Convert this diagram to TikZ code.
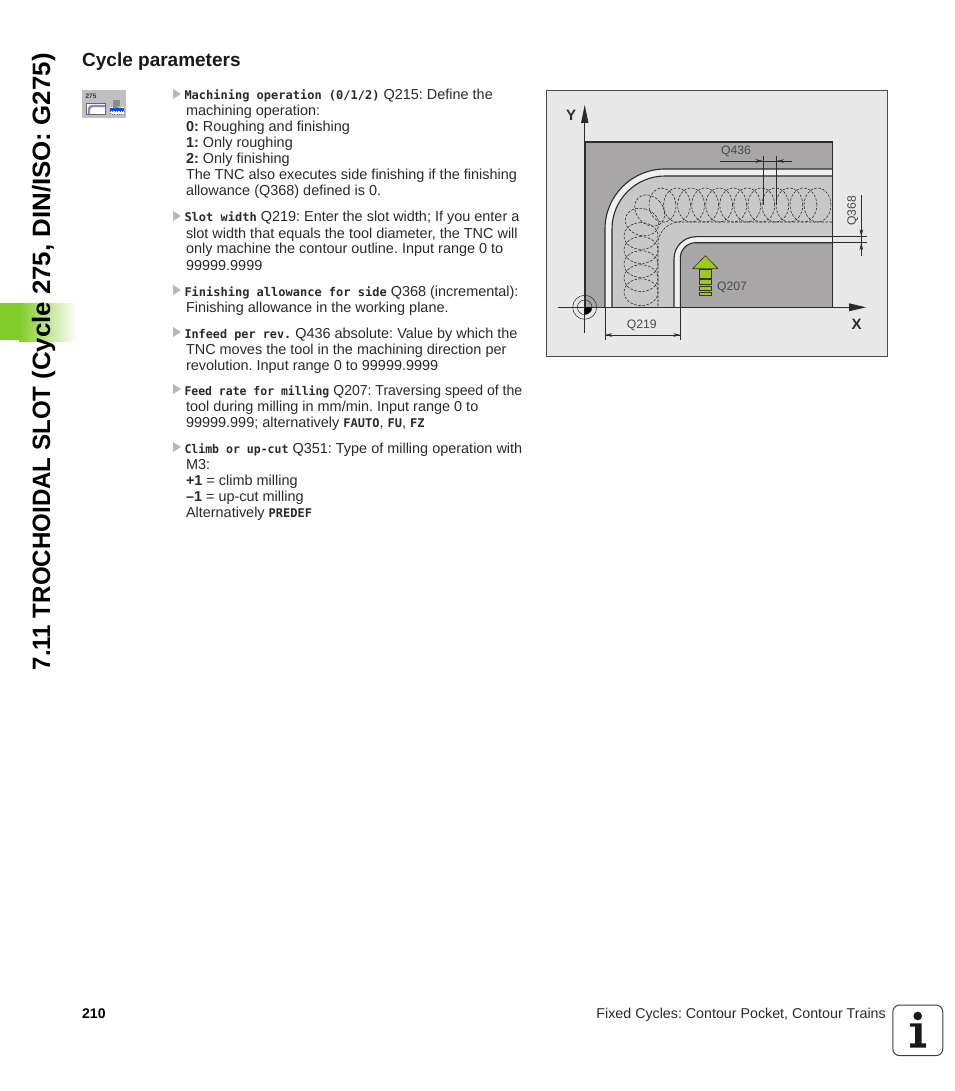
\documentclass[tikz,border=0pt]{standalone}
\usepackage{graphicx}
\usepackage{fontspec}
\setmainfont{Liberation Sans}
\newfontfamily\codefont{DejaVu Sans Mono}
\usetikzlibrary{arrows.meta}
\definecolor{bodyink}{HTML}{2A2A2A}
\definecolor{labelink}{HTML}{4A4A4A}
\definecolor{sheet}{HTML}{E8E8E8}
\definecolor{stockgray}{HTML}{A8A6A6}
\definecolor{slotgray}{HTML}{C8C8C8}
\definecolor{stripwhite}{HTML}{F0F0F0}
\definecolor{lineink}{HTML}{2C2C2C}
\definecolor{leaf}{HTML}{9CCB1E}
\definecolor{tabgreen}{HTML}{80CC28}
\newcommand{\cod}[1]{{\codefont\bfseries\fontsize{12}{16}\selectfont #1}}
\newcommand{\codx}[2]{\scalebox{#1}[1]{\cod{#2}}}
\newcommand{\bld}[1]{{\bfseries #1}}
\tikzset{
  body/.style={anchor=base west,inner sep=0pt,outer sep=0pt,text=bodyink,font=\fontsize{14.45}{16}\selectfont\frenchspacing},
  dimlabel/.style={inner sep=0pt,text=labelink,font=\fontsize{12.2}{14}\selectfont},
  axislabel/.style={inner sep=0pt,text=lineink,font=\bfseries\fontsize{15}{16}\selectfont},
  thin line/.style={draw=lineink,line width=0.55pt},
  slotedge/.style={draw=lineink,line width=1.1pt},
  bullet/.style={fill=black!28,draw=none},
  helixpath/.style={draw=black!85,line width=0.55pt,dash pattern=on 2.6pt off 1.5pt},
  dimtip/.style={-{Stealth[length=7.5pt,width=3.6pt]},draw=lineink,line width=0.55pt}
}
\begin{document}
\begin{tikzpicture}[x=1pt,y=-1pt]
\useasboundingbox (0,0) rectangle (954,1091);
\fill[white] (0,0) rectangle (954,1091);
% side tab
\fill[tabgreen] (0,303) rectangle (19,340);
\shade[left color=tabgreen,right color=white] (19,303) rectangle (77,341);
\node[inner sep=0pt,anchor=base west,rotate=90,text=black,font=\bfseries\fontsize{25.1}{26}\selectfont] (sidetitle) at (50,670.5) {\scalebox{.96}[1]{7.11 TROCHOIDAL SLOT} \scalebox{1.03}[1]{(Cycle 275, DIN/ISO: G275)}};
% heading
\node[anchor=base west,inner sep=0pt,font=\bfseries\fontsize{19}{22}\selectfont,text=black!90] (heading) at (82,67) {Cycle parameters};
% icon
\fill[black!25] (82,90) rectangle (126,118);
\node[inner sep=0pt,font=\bfseries\fontsize{6.5}{7}\selectfont,text=black!80] (icontext) at (91,96.5) {275};
\draw[black!60,fill=white,line width=0.6pt] (86,103) rectangle (105,114);
\draw[blue!35!gray!70,line width=2.4pt] (89,114) -- (89,109) to[out=90,in=180] (93,106) -- (105,106);
\fill[white] (110,107) rectangle (124,114);
\fill[blue!70!cyan] (110,108.5) rectangle (124,111);
\fill[black!45] (113,100) rectangle (120,108);
\fill[yellow!70!green] (118,106) rectangle (121,108.5);
\draw[black!60,dotted] (110,111) rectangle (124,114);
% bullets
\foreach \yb/\bn in {94/a,216/b,290/c,332/d,389/e,447/f}{
  \fill[bullet] (173,\yb-5) -- (181,\yb) -- (173,\yb+5) -- cycle;
}
% paragraph 1
\node[body] (l01) at (184.5,100) {\cod{Machining operation (0/1/2)} Q215: Define the};
\node[body] (l02) at (186,116) {machining operation:};
\node[body] (l03) at (186,132) {\bld{0:} Roughing and finishing};
\node[body] (l04) at (186,148) {\bld{1:} Only roughing};
\node[body] (l05) at (186,164) {\bld{2:} Only finishing};
\node[body] (l06) at (186,180) {The TNC also executes side finishing if the finishing};
\node[body] (l07) at (186,196) {allowance (Q368) defined is 0.};
% paragraph 2
\node[body] (l08) at (184.5,222) {\cod{Slot width} Q219: Enter the slot width; If you enter a};
\node[body] (l09) at (186,238) {slot width that equals the tool diameter, the TNC will};
\node[body] (l10) at (186,254) {only machine the contour outline. Input range 0 to};
\node[body] (l11) at (186,270) {99999.9999};
% paragraph 3
\node[body] (l12) at (184.5,296) {\cod{Finishing allowance for side} Q368 (incremental):};
\node[body] (l13) at (186,312) {Finishing allowance in the working plane.};
% paragraph 4
\node[body] (l14) at (184.5,338) {\codx{.985}{Infeed per rev.} Q436 absolute: Value by which the};
\node[body] (l15) at (186,354) {TNC moves the tool in the machining direction per};
\node[body] (l16) at (186,370) {revolution. Input range 0 to 99999.9999};
% paragraph 5
\node[body] (l17) at (184.5,395) {\codx{.955}{Feed rate for milling} \scalebox{.97}[1]{Q207: Traversing speed of the}};
\node[body] (l18) at (186,411) {tool during milling in mm/min. Input range 0 to};
\node[body] (l19) at (186,427) {99999.999; alternatively \cod{FAUTO}, \cod{FU}, \cod{FZ}};
% paragraph 6
\node[body] (l20) at (184.5,453) {\codx{.96}{Climb or up-cut} Q351: Type of milling operation with};
\node[body] (l21) at (186,469) {M3:};
\node[body] (l22) at (186,485) {\bld{+1} = climb milling};
\node[body] (l23) at (186,501) {\bld{–1} = up-cut milling};
\node[body] (l24) at (186,517) {Alternatively \cod{PREDEF}};
% figure frame
\draw[draw=black!70,fill=sheet,line width=0.8pt] (546.5,90.5) rectangle (887.5,356.5);
% stock
\fill[stockgray] (585,142) rectangle (832.5,307.3);
% white strip + slot
\fill[stripwhite] (605,307.3) -- (605,229) arc[start angle=180,end angle=90,radius=60pt] -- (832.5,169) -- (832.5,242.7) -- (695.6,242.7) arc[start angle=90,end angle=180,radius=15.3pt] -- (680.3,307.3) -- cycle;
\fill[slotgray] (612,307.3) -- (612,229) arc[start angle=180,end angle=90,radius=53pt] -- (832.5,176) -- (832.5,236.7) -- (696,236.7) arc[start angle=90,end angle=180,radius=22pt] -- (674,307.3) -- cycle;
\draw[slotedge] (605,307.3) -- (605,229) arc[start angle=180,end angle=90,radius=60pt] -- (832.5,169);
\draw[slotedge] (612,307.3) -- (612,229) arc[start angle=180,end angle=90,radius=53pt] -- (832.5,176);
\draw[slotedge] (674,307.3) -- (674,258.7) arc[start angle=180,end angle=90,radius=22pt] -- (832.5,236.7);
\draw[slotedge] (680.3,307.3) -- (680.3,258) arc[start angle=180,end angle=90,radius=15.3pt] -- (832.5,242.7);
\draw[draw=lineink,line width=1.4pt] (585,307.3) -- (585,142) -- (832.5,142) -- (832.5,307.3);
% trochoid
\begin{scope}
\clip (612,306) rectangle (832,177);
\foreach \s in {0,...,18}{
  \pgfmathsetmacro{\d}{\s*14.05}
  \pgfmathsetmacro{\cx}{\d<152 ? 817.5-\d : (\d<189.7 ? 665-24*sin((\d-152)/24*57.296) : 641)}
  \pgfmathsetmacro{\cy}{\d<152 ? 205 : (\d<189.7 ? 229-24*cos((\d-152)/24*57.296) : 229+\d-189.7)}
  \pgfmathsetmacro{\ang}{\d<152 ? 0 : (\d<189.7 ? (\d-152)/24*57.296 : 90)}
  \draw[helixpath,rotate around={\ang:(\cx,\cy)}] (\cx,\cy) ellipse[x radius=13.4pt,y radius=17pt];
}
\end{scope}
\draw[helixpath] (832,222) -- (680,222) arc[start angle=90,end angle=180,radius=22pt] -- (658,307);
% axes
\draw[thin line,line width=0.7pt] (558,307.3) -- (850,307.3);
\fill[lineink] (866,307.3) -- (849,303.3) -- (849,311.3) -- cycle;
\draw[thin line,line width=0.7pt] (584.5,122) -- (584.5,332.5);
\fill[lineink] (584.7,105) -- (581,123) -- (588.5,123) -- cycle;
% origin symbol
\coordinate (origin) at (584.7,307.3);
\draw[thin line] (origin) circle[radius=12pt];
\draw[thin line] (origin) circle[radius=7.3pt];
\fill[black] (origin) -- ++(7pt,0pt) arc[start angle=0,end angle=-90,radius=7pt] -- cycle;
% Q436
\coordinate (q1) at (763,155.7);
\coordinate (q2) at (776.7,155.7);
\draw[thin line] (q1) -- (763,205);
\draw[thin line] (q2) -- (776.7,205);
\draw[thin line] (719.5,161) -- (791.5,161);
\draw[dimtip] (755.5,161) -- (763,161);
\draw[dimtip] (784.2,161) -- (776.7,161);
\node[dimlabel] (q436) at (736,151.7) {Q436};
% Q368
\draw[thin line] (832.5,236.7) -- (866.7,236.7);
\draw[thin line] (832.5,242.7) -- (866.7,242.7);
\draw[thin line] (861.3,195) -- (861.3,255.7);
\draw[dimtip] (861.3,229) -- (861.3,236.7);
\draw[dimtip] (861.3,250.4) -- (861.3,242.7);
\node[dimlabel,rotate=90] (q368) at (852.7,210.7) {Q368};
% Q219
\draw[thin line] (604.8,307.3) -- (604.8,340);
\draw[thin line] (680.7,307.3) -- (680.7,340);
\draw[thin line] (604.8,335) -- (680.7,335);
\draw[dimtip] (612.5,335) -- (604.8,335);
\draw[dimtip] (673,335) -- (680.7,335);
\node[dimlabel] (q219) at (641.7,325.7) {Q219};
% Q207 and feed arrow
\draw[draw=black!80,fill=leaf,line width=0.6pt,line join=round] (705.3,255.7) -- (718,268.7) -- (692.7,268.7) -- cycle;
\foreach \ya/\yb in {269.3/278,279.2/284.3,286.7/290.3,292/295.3}{
  \draw[draw=black!80,fill=leaf,line width=0.45pt] (699.6,\ya) rectangle (711.6,\yb);
}
\node[dimlabel] (q207) at (732,287.7) {Q207};
% axis names
\node[axislabel] (ylabel) at (571,115.5) {Y};
\node[axislabel] (xlabel) at (856.7,324.5) {X};
% footer
\node[anchor=base west,inner sep=0pt,font=\bfseries\fontsize{14}{16}\selectfont] (pagenum) at (82,1018) {210};
\node[anchor=base east,inner sep=0pt,text=bodyink,font=\fontsize{14.25}{16}\selectfont\frenchspacing] (foottext) at (886,1018) {Fixed Cycles: Contour Pocket, Contour Trains};
% info box
\draw[draw=black!75,fill=white,line width=1pt,rounded corners=7pt] (892.8,1005) rectangle (942.8,1055.7);
\fill[black!90] (917.7,1016) circle[radius=4.3pt];
\fill[black!90] (910,1023.3) -- (921.7,1023.3) -- (921.7,1043.3) -- (926,1043.3) -- (926,1047.7) -- (910,1047.7) -- (910,1043.3) -- (915,1043.3) -- (915,1026.5) -- (910,1026.5) -- cycle;
\end{tikzpicture}
\end{document}
